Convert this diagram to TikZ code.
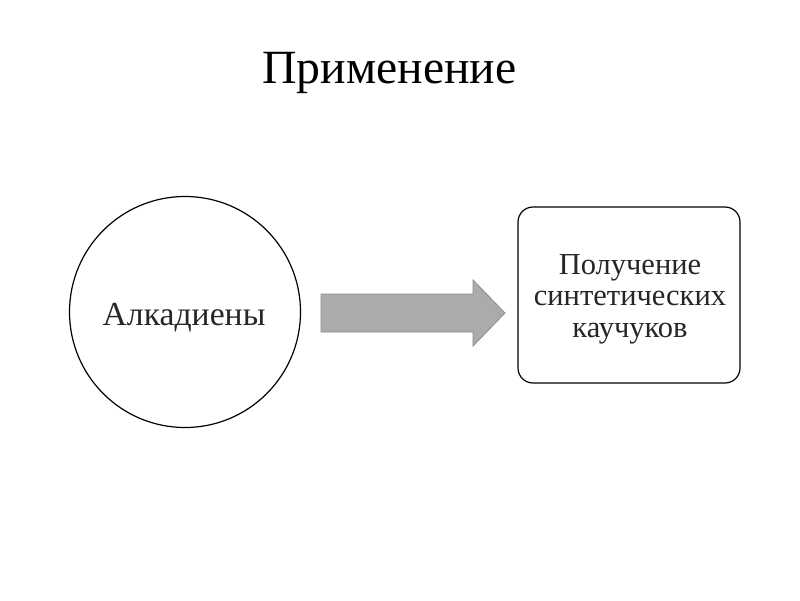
\documentclass[tikz,border=0pt]{standalone}
\usepackage{fontspec}
\setmainfont{Liberation Serif}
\begin{document}
\begin{tikzpicture}[x=1pt,y=-1pt,
  boxtxt/.style={font=\fontsize{30.5}{31.5}\selectfont, text=black!85, align=center, inner sep=0pt},
  arrowfill/.style={fill=black!33, draw=black!45, line width=0.8pt}]
\useasboundingbox (0,0) rectangle (800,600);
\node[font=\fontsize{47.7}{50}\selectfont, anchor=base, inner sep=0pt] (title) at (389.5,83) {Применение};
\node[circle, draw=black, line width=1.2pt, minimum size=231pt, inner sep=0pt] (alk) at (185,312) {};
\node[font=\fontsize{33.7}{35}\selectfont, text=black!85, anchor=base, inner sep=0pt] (alktxt) at (184,325) {Алкадиены};
\node[rounded corners=15pt, draw=black, line width=1.2pt, minimum width=222pt, minimum height=176pt] (rub) at (629,295) {};
\node[boxtxt, anchor=base] (rubtxt) at (630,337) {Получение\\синтетических\\каучуков};
\coordinate (a1) at (321,294);
\coordinate (a2) at (473,294);
\coordinate (a3) at (473,280);
\coordinate (a4) at (505,313);
\coordinate (a5) at (473,346);
\coordinate (a6) at (473,332);
\coordinate (a7) at (321,332);
\draw[arrowfill] (a1) -- (a2) -- (a3) -- (a4) -- (a5) -- (a6) -- (a7) -- cycle;
\end{tikzpicture}
\end{document}
